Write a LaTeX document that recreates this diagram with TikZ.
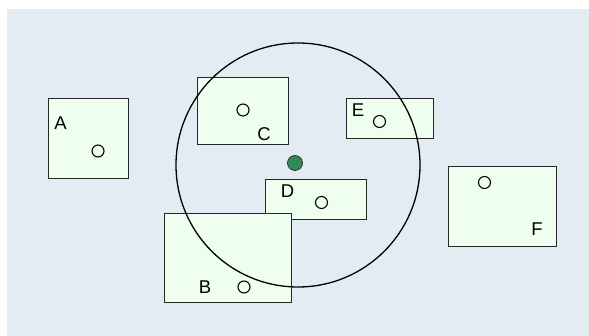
\documentclass[tikz,border=0pt]{standalone}
\usepackage{fontspec}
\setmainfont{Liberation Sans}
\definecolor{bgblue}{HTML}{E4ECF3}
\definecolor{boxfill}{HTML}{EEFFEF}
\definecolor{dotgreen}{HTML}{2E8B57}
\tikzset{
  region/.style={draw=black!85, fill=boxfill, line width=1.4pt, inner sep=0pt, anchor=north west},
  obj/.style={circle, draw, line width=1.1pt, minimum size=12pt, inner sep=0pt},
  lbl/.style={inner sep=0pt, font=\fontsize{18.5}{22}\selectfont}
}
\begin{document}
\begin{tikzpicture}[x=1pt,y=-1pt]
      \useasboundingbox (0,0) rectangle (589,336);
      \fill[bgblue] (7,9) rectangle (589,336);
      % the regions
      \node[region, minimum width=80pt, minimum height=80pt] (A) at (48,98) {};
      \node[lbl] (labA) at (60.5,123.5) {A};
      \node[obj] (a) at (98,151) {};
      \node[region, minimum width=91pt, minimum height=67pt] (C) at (197,77) {};
      \node[lbl] (labC) at (264,134.5) {C};
      \node[obj] (c) at (243,110) {};
      \node[region, minimum width=87pt, minimum height=40pt] (E) at (345.5,98) {};
      \node[lbl] (labE) at (358,110.5) {E};
      \node[obj] (e) at (379.5,121.5) {};
      \node[region, minimum width=108pt, minimum height=80pt] (F) at (447.5,166) {};
      \node[lbl] (labF) at (537,229) {F};
      \node[obj] (f) at (484.5,182.5) {};
      \node[region, minimum width=101pt, minimum height=40pt] (D) at (264.5,179) {};
      \node[lbl] (labD) at (287.5,191.3) {D};
      \node[obj] (d) at (321.5,202.5) {};
      \node[region, minimum width=127pt, minimum height=89pt] (B) at (163.5,213) {};
      \node[lbl] (labB) at (205,286.7) {B};
      \node[obj] (b) at (244,287) {};
      % query range
      \draw[line width=1.3pt] (298,165) circle (122);
      \node[circle, draw=black!80, fill=dotgreen, line width=0.8pt, minimum size=15pt, inner sep=0pt] (q) at (295,163) {};
    \end{tikzpicture}
\end{document}
